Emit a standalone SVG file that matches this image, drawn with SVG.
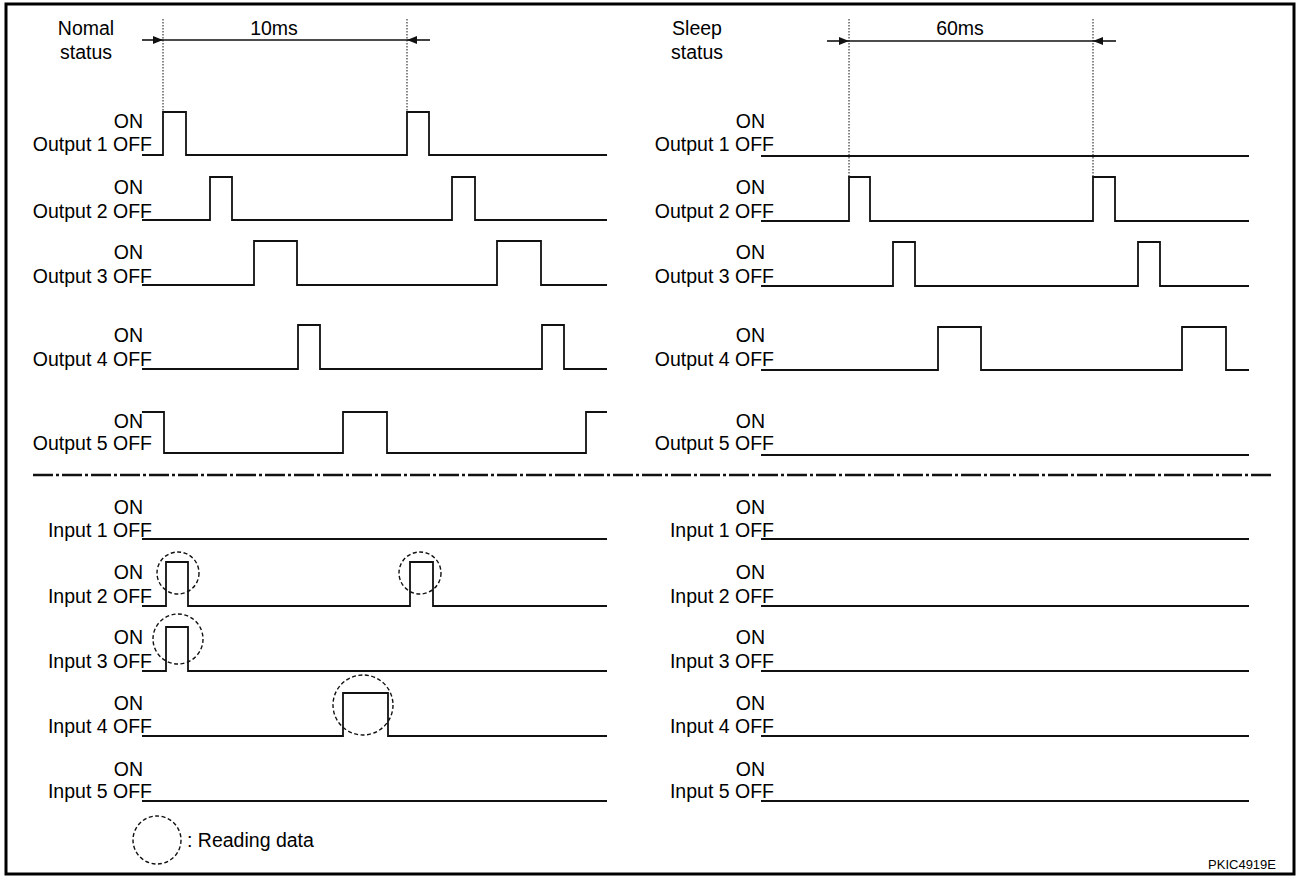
<svg xmlns="http://www.w3.org/2000/svg" width="1297" height="877" viewBox="0 0 1297 877">
<style>
text{font-family:"Liberation Sans",Arial,sans-serif;font-size:19.5px;fill:#000}
.e{text-anchor:end}
.m{text-anchor:middle}
.w{fill:none;stroke:#111;stroke-width:1.8;stroke-linejoin:miter}
.dot{stroke:#111;stroke-width:1;stroke-dasharray:1.5 1.5}
.dim{stroke:#111;stroke-width:1.6}
.rd{fill:none;stroke:#111;stroke-width:1.4;stroke-dasharray:4 2.5}
.sep{stroke:#111;stroke-width:2.6;stroke-dasharray:20 3 3 3}
</style>
<defs>
<marker id="ah" viewBox="0 0 10 8" refX="10" refY="4" markerWidth="10" markerHeight="8" markerUnits="userSpaceOnUse" orient="auto">
<path d="M0,0 L10,4 L0,8 Z" fill="#111"/>
</marker>
</defs>
<rect x="6" y="4" width="1288" height="870" fill="#fff" stroke="#000" stroke-width="3"/>

<g id="headers">
<text class="m" x="86" y="35">Nomal</text>
<text class="m" x="86" y="59">status</text>
<text class="m" x="274" y="35">10ms</text>
<text class="m" x="697" y="35">Sleep</text>
<text class="m" x="697" y="59">status</text>
<text class="m" x="960" y="35">60ms</text>
</g>

<g id="connectors">
<line class="dot" x1="163" y1="19" x2="163" y2="112"/>
<line class="dot" x1="407" y1="19" x2="407" y2="112"/>
<line class="dot" x1="849" y1="19" x2="849" y2="177"/>
<line class="dot" x1="1093" y1="19" x2="1093" y2="177"/>
<line class="dim" x1="163" y1="40" x2="407" y2="40"/>
<line class="dim" x1="142" y1="40" x2="163" y2="40" marker-end="url(#ah)"/>
<line class="dim" x1="430" y1="40" x2="407" y2="40" marker-end="url(#ah)"/>
<line class="dim" x1="849" y1="41" x2="1093" y2="41"/>
<line class="dim" x1="827" y1="41" x2="849" y2="41" marker-end="url(#ah)"/>
<line class="dim" x1="1116" y1="41" x2="1093" y2="41" marker-end="url(#ah)"/>
<line class="sep" x1="33" y1="475" x2="1272" y2="475"/>
</g>

<g id="normal-output1">
<text class="e" x="143" y="128">ON</text><text class="e" x="152" y="151">Output 1 OFF</text>
<path class="w" d="M142,155 H163 V112 H186 V155 H407 V112 H429 V155 H607"/>
</g>
<g id="normal-output2">
<text class="e" x="143" y="194">ON</text><text class="e" x="152" y="218">Output 2 OFF</text>
<path class="w" d="M142,220 H210 V177 H232 V220 H452 V177 H475 V220 H607"/>
</g>
<g id="normal-output3">
<text class="e" x="143" y="259">ON</text><text class="e" x="152" y="283">Output 3 OFF</text>
<path class="w" d="M142,285 H254 V241 H297 V285 H497 V241 H541 V285 H607"/>
</g>
<g id="normal-output4">
<text class="e" x="143" y="342">ON</text><text class="e" x="152" y="366">Output 4 OFF</text>
<path class="w" d="M142,369 H298 V325 H320 V369 H542 V325 H564 V369 H607"/>
</g>
<g id="normal-output5">
<text class="e" x="143" y="428">ON</text><text class="e" x="152" y="450">Output 5 OFF</text>
<path class="w" d="M142,412 H164 V453 H343 V412 H387 V453 H586 V412 H607"/>
</g>

<g id="sleep-output1">
<text class="e" x="765" y="128">ON</text><text class="e" x="774" y="151">Output 1 OFF</text>
<path class="w" d="M761,156 H1249"/>
</g>
<g id="sleep-output2">
<text class="e" x="765" y="194">ON</text><text class="e" x="774" y="218">Output 2 OFF</text>
<path class="w" d="M761,221 H849 V177 H870 V221 H1093 V177 H1115 V221 H1249"/>
</g>
<g id="sleep-output3">
<text class="e" x="765" y="259">ON</text><text class="e" x="774" y="283">Output 3 OFF</text>
<path class="w" d="M761,286 H893 V242 H915 V286 H1138 V242 H1160 V286 H1249"/>
</g>
<g id="sleep-output4">
<text class="e" x="765" y="342">ON</text><text class="e" x="774" y="366">Output 4 OFF</text>
<path class="w" d="M761,370 H938 V327 H981 V370 H1182 V327 H1226 V370 H1249"/>
</g>
<g id="sleep-output5">
<text class="e" x="765" y="428">ON</text><text class="e" x="774" y="450">Output 5 OFF</text>
<path class="w" d="M761,455 H1249"/>
</g>

<g id="normal-input1">
<text class="e" x="143" y="514">ON</text><text class="e" x="152" y="537">Input 1 OFF</text>
<path class="w" d="M142,539 H607"/>
</g>
<g id="normal-input2">
<text class="e" x="143" y="579">ON</text><text class="e" x="152" y="603">Input 2 OFF</text>
<path class="w" d="M142,606 H166 V562 H188 V606 H410 V562 H433 V606 H607"/>
<circle class="rd" cx="178" cy="573" r="21"/>
<circle class="rd" cx="420" cy="573" r="21"/>
</g>
<g id="normal-input3">
<text class="e" x="143" y="644">ON</text><text class="e" x="152" y="668">Input 3 OFF</text>
<path class="w" d="M142,671 H166 V627 H188 V671 H607"/>
<circle class="rd" cx="178" cy="639" r="25"/>
</g>
<g id="normal-input4">
<text class="e" x="143" y="710">ON</text><text class="e" x="152" y="733">Input 4 OFF</text>
<path class="w" d="M142,736 H343 V693 H388 V736 H607"/>
<circle class="rd" cx="363" cy="705" r="30"/>
</g>
<g id="normal-input5">
<text class="e" x="143" y="776">ON</text><text class="e" x="152" y="798">Input 5 OFF</text>
<path class="w" d="M142,801 H607"/>
</g>

<g id="sleep-input1">
<text class="e" x="765" y="514">ON</text><text class="e" x="774" y="537">Input 1 OFF</text>
<path class="w" d="M761,539 H1249"/>
</g>
<g id="sleep-input2">
<text class="e" x="765" y="579">ON</text><text class="e" x="774" y="603">Input 2 OFF</text>
<path class="w" d="M761,606 H1249"/>
</g>
<g id="sleep-input3">
<text class="e" x="765" y="644">ON</text><text class="e" x="774" y="668">Input 3 OFF</text>
<path class="w" d="M761,671 H1249"/>
</g>
<g id="sleep-input4">
<text class="e" x="765" y="710">ON</text><text class="e" x="774" y="733">Input 4 OFF</text>
<path class="w" d="M761,736 H1249"/>
</g>
<g id="sleep-input5">
<text class="e" x="765" y="776">ON</text><text class="e" x="774" y="798">Input 5 OFF</text>
<path class="w" d="M761,801 H1249"/>
</g>

<g id="legend">
<circle class="rd" cx="157" cy="840" r="24"/>
<text x="187" y="847">: Reading data</text>
</g>
<text class="e" x="1276" y="869" style="font-size:13px">PKIC4919E</text>
</svg>
